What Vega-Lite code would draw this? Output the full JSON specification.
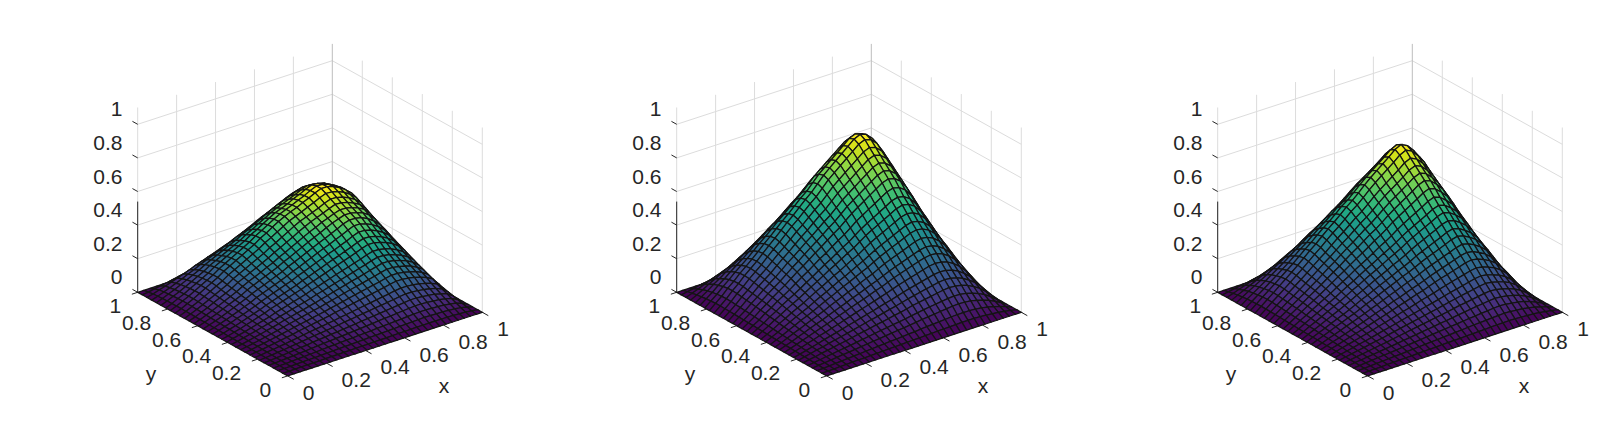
{"$schema":"https://vega.github.io/schema/vega-lite/v6.json","width":1600,"height":423,"padding":0,"autosize":{"type":"fit","contains":"padding"},"background":"white","view":{"stroke":null},
"datasets":{
"surface":[
{"p":0,"j":32,"z":[0,0,0,0,0,0,0,0,0,0,0,0,0,0,0,0,0,0,0,0,0,0,0,0,0,0,0,0,0,0,0,0,0]},
{"p":0,"j":31,"z":[0,65,113,137,153,165,174,179,180,173,164,156,148,140,132,124,116,108,101,92,85,77,70,63,56,47,40,32,25,18,12,5,0]},
{"p":0,"j":30,"z":[0,113,198,239,268,289,304,314,315,302,287,273,258,246,232,217,203,189,176,161,148,135,123,110,98,82,69,57,44,32,21,9,0]},
{"p":0,"j":29,"z":[0,137,239,289,323,348,362,370,372,361,346,329,312,296,280,262,245,228,213,194,179,163,148,133,118,99,84,68,53,38,25,11,0]},
{"p":0,"j":28,"z":[0,153,268,323,358,378,394,403,404,392,377,363,349,332,313,293,275,255,238,217,200,183,166,149,132,111,94,77,60,43,28,13,0]},
{"p":0,"j":27,"z":[0,165,288,348,378,400,416,426,428,414,398,383,368,355,337,316,296,275,256,233,215,197,178,160,142,119,101,82,64,46,30,14,0]},
{"p":0,"j":26,"z":[0,174,304,362,392,416,435,446,448,434,416,401,383,368,354,333,312,290,270,246,227,207,188,169,150,125,106,87,68,48,32,14,0]},
{"p":0,"j":25,"z":[0,179,313,370,403,426,444,455,457,442,424,408,392,377,362,343,321,299,279,254,234,214,194,174,154,129,109,90,70,50,33,15,0]},
{"p":0,"j":24,"z":[0,180,315,372,404,428,446,457,458,444,426,410,393,379,363,345,323,300,280,255,235,215,195,175,155,130,110,90,70,50,33,15,0]},
{"p":0,"j":23,"z":[0,173,302,361,392,415,432,442,444,430,413,398,382,367,352,331,310,288,269,245,226,206,187,168,149,125,106,86,67,48,32,14,0]},
{"p":0,"j":22,"z":[0,164,287,346,377,398,415,424,426,413,396,382,367,354,335,314,294,273,255,232,214,196,177,159,141,118,100,82,64,46,30,14,0]},
{"p":0,"j":21,"z":[0,156,272,329,363,383,399,408,410,397,382,368,354,337,318,298,279,260,242,221,203,186,169,151,134,112,95,78,61,43,29,13,0]},
{"p":0,"j":20,"z":[0,148,258,312,349,369,383,392,393,382,367,354,336,320,302,283,265,246,230,209,193,176,160,144,127,107,90,74,57,41,27,12,0]},
{"p":0,"j":19,"z":[0,140,246,296,332,355,369,377,379,367,354,338,320,304,287,269,252,234,218,199,183,168,152,137,121,101,86,70,55,39,26,12,0]},
{"p":0,"j":18,"z":[0,132,232,279,312,337,354,362,363,352,334,318,301,287,270,254,237,221,206,187,173,158,143,129,114,96,81,66,51,37,24,11,0]},
{"p":0,"j":17,"z":[0,124,217,262,293,316,333,344,345,331,314,299,283,269,254,238,223,207,193,176,162,148,135,121,107,90,76,62,48,35,23,10,0]},
{"p":0,"j":16,"z":[0,116,203,245,274,295,312,321,323,310,293,279,264,252,237,223,208,194,181,164,152,139,126,113,100,84,71,58,45,32,21,10,0]},
{"p":0,"j":15,"z":[0,108,189,228,255,275,290,299,300,288,273,260,246,234,221,207,194,180,168,153,141,129,117,105,93,78,66,54,42,30,20,9,0]},
{"p":0,"j":14,"z":[0,101,176,213,238,256,270,279,280,269,255,242,230,218,206,193,181,168,157,143,132,120,109,98,87,73,62,50,39,28,18,8,0]},
{"p":0,"j":13,"z":[0,92,161,194,217,234,246,254,255,245,232,221,209,199,188,176,165,153,143,130,120,110,99,89,79,66,56,46,36,26,17,8,0]},
{"p":0,"j":12,"z":[0,85,148,179,200,215,227,234,235,226,214,204,193,183,173,162,152,141,132,120,110,101,92,82,73,61,52,42,33,24,16,7,0]},
{"p":0,"j":11,"z":[0,77,135,163,183,197,208,214,215,206,196,186,176,168,158,148,139,129,120,110,101,92,84,75,67,56,47,39,30,22,14,6,0]},
{"p":0,"j":10,"z":[0,70,123,148,166,179,188,194,195,187,177,169,160,152,144,135,126,117,109,99,92,84,76,68,60,51,43,35,27,20,13,6,0]},
{"p":0,"j":9,"z":[0,63,110,133,149,160,169,174,175,168,159,152,144,137,129,121,113,105,98,89,82,75,68,61,54,46,39,32,25,18,12,5,0]},
{"p":0,"j":8,"z":[0,56,98,118,132,142,150,154,155,149,141,134,127,121,114,107,100,93,87,79,73,67,60,54,48,40,34,28,22,16,10,5,0]},
{"p":0,"j":7,"z":[0,47,82,99,111,119,126,129,130,125,118,113,107,101,96,90,84,78,73,66,61,56,51,46,40,34,29,23,18,13,9,4,0]},
{"p":0,"j":6,"z":[0,40,69,84,94,101,106,110,110,106,100,95,90,86,81,76,71,66,62,56,52,47,43,39,34,29,24,20,15,11,7,3,0]},
{"p":0,"j":5,"z":[0,32,57,68,77,82,87,90,90,86,82,78,74,70,66,62,58,54,50,46,42,39,35,32,28,23,20,16,13,9,6,3,0]},
{"p":0,"j":4,"z":[0,25,44,53,60,64,68,70,70,67,64,61,57,55,52,48,45,42,39,36,33,30,27,25,22,18,15,13,10,7,5,2,0]},
{"p":0,"j":3,"z":[0,18,32,38,43,46,48,50,50,48,46,43,41,39,37,35,32,30,28,26,24,22,20,18,16,13,11,9,7,5,3,2,0]},
{"p":0,"j":2,"z":[0,12,20,25,28,30,31,32,33,31,30,28,27,25,24,22,21,20,18,17,15,14,13,11,10,8,7,6,5,3,2,1,0]},
{"p":0,"j":1,"z":[0,5,9,11,13,14,14,15,15,14,14,13,12,12,11,10,10,9,8,8,7,6,6,5,5,4,3,3,2,2,1,0,0]},
{"p":0,"j":0,"z":[0,0,0,0,0,0,0,0,0,0,0,0,0,0,0,0,0,0,0,0,0,0,0,0,0,0,0,0,0,0,0,0,0]},
{"p":1,"j":32,"z":[0,0,0,0,0,0,0,0,0,0,0,0,0,0,0,0,0,0,0,0,0,0,0,0,0,0,0,0,0,0,0,0,0]},
{"p":1,"j":31,"z":[0,38,74,105,129,148,161,169,172,168,161,154,148,141,134,125,117,110,102,94,88,80,72,65,57,50,43,36,28,22,14,7,0]},
{"p":1,"j":30,"z":[0,74,144,205,252,289,315,330,335,329,315,302,289,275,261,245,228,215,200,184,171,156,141,127,112,97,84,71,55,42,27,13,0]},
{"p":1,"j":29,"z":[0,105,204,290,357,409,447,468,476,466,447,428,409,390,371,347,323,304,283,262,243,221,200,181,159,138,119,100,79,60,38,19,0]},
{"p":1,"j":28,"z":[0,129,251,357,439,503,550,576,585,573,550,527,503,480,456,427,398,374,348,322,299,272,246,222,196,170,146,123,97,74,47,23,0]},
{"p":1,"j":27,"z":[0,148,288,409,503,577,630,660,671,657,630,604,577,550,523,489,456,429,399,369,342,312,282,255,224,194,168,141,111,84,53,27,0]},
{"p":1,"j":26,"z":[0,162,315,447,550,631,689,722,733,718,689,660,631,602,572,535,498,469,436,403,374,341,308,278,245,212,183,154,121,92,58,29,0]},
{"p":1,"j":25,"z":[0,169,330,469,576,661,722,756,768,753,722,691,661,630,599,560,522,492,457,423,392,358,323,292,257,223,192,162,127,97,61,31,0]},
{"p":1,"j":24,"z":[0,172,335,476,585,671,733,768,780,764,733,702,671,640,608,569,530,499,464,429,398,363,328,296,261,226,195,164,129,98,62,31,0]},
{"p":1,"j":23,"z":[0,169,328,466,573,658,718,753,764,749,718,688,658,627,596,558,519,489,455,420,390,356,321,290,256,221,191,161,126,96,61,30,0]},
{"p":1,"j":22,"z":[0,162,315,447,550,631,689,722,733,718,689,660,631,602,572,535,498,469,436,403,374,341,308,278,245,212,183,154,121,92,58,29,0]},
{"p":1,"j":21,"z":[0,155,302,428,527,604,660,691,702,688,660,632,604,576,547,512,477,449,418,386,358,327,295,266,235,203,176,148,116,88,56,28,0]},
{"p":1,"j":20,"z":[0,148,288,409,503,577,630,660,671,657,630,604,577,550,523,489,456,429,399,369,342,312,282,255,224,194,168,141,111,84,53,27,0]},
{"p":1,"j":19,"z":[0,141,275,390,480,550,601,630,640,626,601,576,550,525,499,467,435,409,380,352,326,298,269,243,214,185,160,134,106,80,51,25,0]},
{"p":1,"j":18,"z":[0,134,261,371,456,523,572,599,608,596,572,548,523,499,474,444,413,389,362,335,310,283,256,231,204,176,152,128,101,76,48,24,0]},
{"p":1,"j":17,"z":[0,126,245,347,427,490,535,561,569,558,535,512,490,467,444,415,387,364,339,313,291,265,239,216,191,165,142,120,94,72,45,23,0]},
{"p":1,"j":16,"z":[0,117,228,324,398,456,498,522,530,520,498,477,456,435,413,387,360,339,316,292,271,247,223,201,177,154,133,112,88,67,42,21,0]},
{"p":1,"j":15,"z":[0,110,214,305,374,429,469,492,499,489,469,449,429,410,389,364,339,319,297,275,255,232,210,189,167,145,125,105,83,63,40,20,0]},
{"p":1,"j":14,"z":[0,102,199,283,348,399,436,457,464,455,436,418,399,381,362,339,315,297,276,255,237,216,195,176,155,134,116,98,77,58,37,18,0]},
{"p":1,"j":13,"z":[0,95,184,262,322,369,403,422,429,420,403,386,369,352,334,313,292,274,255,236,219,200,180,163,144,124,107,90,71,54,34,17,0]},
{"p":1,"j":12,"z":[0,88,171,243,298,342,374,392,398,390,374,358,342,326,310,290,270,254,237,219,203,185,167,151,133,115,99,84,66,50,32,16,0]},
{"p":1,"j":11,"z":[0,80,156,221,272,312,341,357,363,355,341,326,312,298,283,265,246,232,216,199,185,169,153,138,121,105,91,76,60,46,29,14,0]},
{"p":1,"j":10,"z":[0,72,141,200,246,282,308,323,328,321,308,295,282,269,255,239,223,210,195,180,167,152,138,124,110,95,82,69,54,41,26,13,0]},
{"p":1,"j":9,"z":[0,65,127,181,222,255,279,292,296,290,279,267,255,243,231,216,201,190,176,163,151,138,125,112,99,86,74,62,49,37,24,12,0]},
{"p":1,"j":8,"z":[0,58,112,159,196,225,246,257,261,256,246,235,225,214,204,191,178,167,155,144,133,122,110,99,87,76,65,55,43,33,21,10,0]},
{"p":1,"j":7,"z":[0,50,97,138,170,195,213,223,226,222,213,204,195,186,176,165,154,145,135,124,115,105,95,86,76,66,57,48,37,28,18,9,0]},
{"p":1,"j":6,"z":[0,43,84,119,146,168,183,192,195,191,183,176,168,160,152,142,133,125,116,107,100,91,82,74,65,57,49,41,32,25,16,8,0]},
{"p":1,"j":5,"z":[0,36,70,100,123,141,154,161,164,160,154,147,141,134,128,119,111,105,97,90,84,76,69,62,55,47,41,34,27,21,13,7,0]},
{"p":1,"j":4,"z":[0,28,55,79,97,111,121,127,129,126,121,116,111,106,100,94,87,82,77,71,66,60,54,49,43,37,32,27,21,16,10,5,0]},
{"p":1,"j":3,"z":[0,22,42,60,73,84,92,96,98,96,92,88,84,80,76,71,66,62,58,54,50,45,41,37,33,28,24,21,16,12,8,4,0]},
{"p":1,"j":2,"z":[0,14,27,38,47,54,59,61,62,61,59,56,54,51,49,46,42,40,37,34,32,29,26,24,21,18,16,13,10,8,5,2,0]},
{"p":1,"j":1,"z":[0,7,13,19,23,27,29,31,31,31,29,28,27,26,24,23,21,20,19,17,16,15,13,12,10,9,8,7,5,4,2,1,0]},
{"p":1,"j":0,"z":[0,0,0,0,0,0,0,0,0,0,0,0,0,0,0,0,0,0,0,0,0,0,0,0,0,0,0,0,0,0,0,0,0]},
{"p":2,"j":32,"z":[0,0,0,0,0,0,0,0,0,0,0,0,0,0,0,0,0,0,0,0,0,0,0,0,0,0,0,0,0,0,0,0,0]},
{"p":2,"j":31,"z":[0,35,68,97,119,135,146,154,158,154,147,141,135,128,121,113,106,100,93,86,79,72,65,59,51,44,38,32,25,19,13,6,0]},
{"p":2,"j":30,"z":[0,68,133,189,232,263,285,302,310,302,288,276,263,251,237,221,207,195,181,167,155,141,127,114,101,87,74,62,49,37,25,12,0]},
{"p":2,"j":29,"z":[0,96,189,268,329,373,404,428,439,428,409,391,373,356,336,314,294,277,257,237,220,200,180,162,143,123,106,88,70,52,35,18,0]},
{"p":2,"j":28,"z":[0,119,233,329,405,459,497,527,540,527,503,481,459,437,413,386,362,341,316,292,270,246,221,200,176,152,130,108,86,65,44,22,0]},
{"p":2,"j":27,"z":[0,134,264,373,459,520,563,597,612,597,570,545,520,496,468,438,410,386,358,331,306,279,251,226,199,172,147,122,98,73,49,25,0]},
{"p":2,"j":26,"z":[0,145,285,404,497,563,609,646,662,646,616,590,563,536,507,474,443,418,387,358,331,302,271,245,215,186,159,132,106,79,53,27,0]},
{"p":2,"j":25,"z":[0,154,302,428,527,597,645,684,702,684,653,625,597,568,537,502,470,443,410,379,351,320,288,259,228,197,169,140,112,84,57,28,0]},
{"p":2,"j":24,"z":[0,158,310,439,540,612,662,702,720,702,670,641,612,583,551,515,482,454,421,389,360,328,295,266,234,202,173,144,115,86,58,29,0]},
{"p":2,"j":23,"z":[0,154,302,428,527,597,645,684,702,684,653,625,597,568,537,502,470,443,410,379,351,320,288,259,228,197,169,140,112,84,57,28,0]},
{"p":2,"j":22,"z":[0,147,288,408,502,569,616,653,670,653,623,596,569,542,512,479,448,422,392,362,335,305,274,247,218,188,161,134,107,80,54,27,0]},
{"p":2,"j":21,"z":[0,141,276,391,481,545,589,625,641,625,596,570,545,519,490,458,429,404,375,346,320,292,263,237,208,180,154,128,102,77,52,26,0]},
{"p":2,"j":20,"z":[0,134,264,373,459,520,563,597,612,597,570,545,520,496,468,438,410,386,358,331,306,279,251,226,199,172,147,122,98,73,49,25,0]},
{"p":2,"j":19,"z":[0,128,251,356,437,496,536,569,583,569,543,519,496,472,446,417,390,368,341,315,292,266,239,215,190,164,140,117,93,70,47,23,0]},
{"p":2,"j":18,"z":[0,121,237,336,413,468,506,537,551,537,513,490,468,446,422,394,369,347,322,298,275,251,226,203,179,155,132,110,88,66,44,22,0]},
{"p":2,"j":17,"z":[0,113,222,314,386,438,473,502,515,502,479,458,438,417,394,368,345,325,301,278,257,235,211,190,167,144,124,103,82,61,41,21,0]},
{"p":2,"j":16,"z":[0,106,208,294,362,410,444,470,482,470,449,429,410,391,369,345,323,304,282,261,241,220,198,178,157,135,116,96,77,58,39,19,0]},
{"p":2,"j":15,"z":[0,100,195,277,340,386,417,442,454,442,422,404,386,367,347,324,304,286,265,245,227,207,186,168,147,127,109,91,72,54,37,18,0]},
{"p":2,"j":14,"z":[0,92,181,257,316,358,387,411,421,411,392,375,358,341,322,301,282,266,246,228,211,192,173,156,137,118,101,84,67,50,34,17,0]},
{"p":2,"j":13,"z":[0,85,167,237,292,330,357,379,389,379,362,346,330,315,298,278,260,245,227,210,194,177,159,144,126,109,93,78,62,46,31,16,0]},
{"p":2,"j":12,"z":[0,79,155,220,270,306,331,351,360,351,335,320,306,292,276,258,241,227,211,195,180,164,148,133,117,101,87,72,58,43,29,15,0]},
{"p":2,"j":11,"z":[0,72,141,200,246,278,301,319,328,319,305,292,278,265,251,234,219,207,192,177,164,149,134,121,106,92,79,66,52,39,26,13,0]},
{"p":2,"j":10,"z":[0,65,127,180,221,251,271,288,295,288,275,263,251,239,226,211,198,186,173,159,148,134,121,109,96,83,71,59,47,35,24,12,0]},
{"p":2,"j":9,"z":[0,58,115,162,200,226,245,260,266,260,248,237,226,216,204,191,178,168,156,144,133,121,109,98,87,75,64,53,43,32,21,11,0]},
{"p":2,"j":8,"z":[0,51,101,143,176,199,215,228,234,228,218,208,199,189,179,167,157,148,137,126,117,107,96,86,76,66,56,47,37,28,19,9,0]},
{"p":2,"j":7,"z":[0,44,87,123,151,171,185,197,202,197,188,179,171,163,154,144,135,127,118,109,101,92,83,74,66,57,48,40,32,24,16,8,0]},
{"p":2,"j":6,"z":[0,38,74,105,130,147,159,168,173,168,161,154,147,140,132,124,116,109,101,93,86,79,71,64,56,48,42,35,28,21,14,7,0]},
{"p":2,"j":5,"z":[0,32,62,88,108,122,132,140,144,140,134,128,122,117,110,103,96,91,84,78,72,66,59,53,47,40,35,29,23,17,12,6,0]},
{"p":2,"j":4,"z":[0,25,50,70,86,98,106,112,115,112,107,103,98,93,88,82,77,73,67,62,58,52,47,43,37,32,28,23,18,14,9,5,0]},
{"p":2,"j":3,"z":[0,19,37,53,65,73,79,84,86,84,80,77,73,70,66,62,58,54,51,47,43,39,35,32,28,24,21,17,14,10,7,3,0]},
{"p":2,"j":2,"z":[0,13,25,35,43,49,53,56,58,56,54,51,49,47,44,41,39,36,34,31,29,26,24,21,19,16,14,12,9,7,5,2,0]},
{"p":2,"j":1,"z":[0,6,12,18,22,24,26,28,29,28,27,26,24,23,22,21,19,18,17,16,14,13,12,11,9,8,7,6,5,3,2,1,0]},
{"p":2,"j":0,"z":[0,0,0,0,0,0,0,0,0,0,0,0,0,0,0,0,0,0,0,0,0,0,0,0,0,0,0,0,0,0,0,0,0]}
],
"lines":[
{"k":"g","x":0,"y":1,"z":0,"x2":0,"y2":1,"z2":1.1},{"k":"g","x":0.2,"y":1,"z":0,"x2":0.2,"y2":1,"z2":1.1},{"k":"g","x":0.4,"y":1,"z":0,"x2":0.4,"y2":1,"z2":1.1},{"k":"g","x":0.6,"y":1,"z":0,"x2":0.6,"y2":1,"z2":1.1},{"k":"g","x":0.8,"y":1,"z":0,"x2":0.8,"y2":1,"z2":1.1},
{"k":"g","x":1,"y":0.8,"z":0,"x2":1,"y2":0.8,"z2":1.1},{"k":"g","x":1,"y":0.6,"z":0,"x2":1,"y2":0.6,"z2":1.1},{"k":"g","x":1,"y":0.4,"z":0,"x2":1,"y2":0.4,"z2":1.1},{"k":"g","x":1,"y":0.2,"z":0,"x2":1,"y2":0.2,"z2":1.1},{"k":"g","x":1,"y":0,"z":0,"x2":1,"y2":0,"z2":1.1},
{"k":"g","x":0,"y":1,"z":0.2,"x2":1,"y2":1,"z2":0.2},{"k":"g","x":0,"y":1,"z":0.4,"x2":1,"y2":1,"z2":0.4},{"k":"g","x":0,"y":1,"z":0.6,"x2":1,"y2":1,"z2":0.6},{"k":"g","x":0,"y":1,"z":0.8,"x2":1,"y2":1,"z2":0.8},{"k":"g","x":0,"y":1,"z":1,"x2":1,"y2":1,"z2":1},
{"k":"g","x":1,"y":1,"z":0.2,"x2":1,"y2":0,"z2":0.2},{"k":"g","x":1,"y":1,"z":0.4,"x2":1,"y2":0,"z2":0.4},{"k":"g","x":1,"y":1,"z":0.6,"x2":1,"y2":0,"z2":0.6},{"k":"g","x":1,"y":1,"z":0.8,"x2":1,"y2":0,"z2":0.8},{"k":"g","x":1,"y":1,"z":1,"x2":1,"y2":0,"z2":1},
{"k":"b","x":1,"y":1,"z":0,"x2":1,"y2":1,"z2":1.1},
{"k":"t","x":0,"y":1,"z":0,"x2":0,"y2":1,"z2":0.54},
{"k":"t","x":0,"y":1,"z":0,"x2":0,"y2":1.035,"z2":0},{"k":"t","x":0,"y":1,"z":0.2,"x2":0,"y2":1.035,"z2":0.2},{"k":"t","x":0,"y":1,"z":0.4,"x2":0,"y2":1.035,"z2":0.4},{"k":"t","x":0,"y":1,"z":0.6,"x2":0,"y2":1.035,"z2":0.6},{"k":"t","x":0,"y":1,"z":0.8,"x2":0,"y2":1.035,"z2":0.8},{"k":"t","x":0,"y":1,"z":1,"x2":0,"y2":1.035,"z2":1},
{"k":"t","x":0,"y":0,"z":0,"x2":0,"y2":-0.04,"z2":0},{"k":"t","x":0.2,"y":0,"z":0,"x2":0.2,"y2":-0.04,"z2":0},{"k":"t","x":0.4,"y":0,"z":0,"x2":0.4,"y2":-0.04,"z2":0},{"k":"t","x":0.6,"y":0,"z":0,"x2":0.6,"y2":-0.04,"z2":0},{"k":"t","x":0.8,"y":0,"z":0,"x2":0.8,"y2":-0.04,"z2":0},{"k":"t","x":1,"y":0,"z":0,"x2":1,"y2":-0.04,"z2":0},
{"k":"t","x":0,"y":0,"z":0,"x2":-0.03,"y2":0,"z2":0},{"k":"t","x":0,"y":0.2,"z":0,"x2":-0.03,"y2":0.2,"z2":0},{"k":"t","x":0,"y":0.4,"z":0,"x2":-0.03,"y2":0.4,"z2":0},{"k":"t","x":0,"y":0.6,"z":0,"x2":-0.03,"y2":0.6,"z2":0},{"k":"t","x":0,"y":0.8,"z":0,"x2":-0.03,"y2":0.8,"z2":0},{"k":"t","x":0,"y":1,"z":0,"x2":-0.03,"y2":1,"z2":0}
],
"labels":[
{"k":"x","t":"0","x":0,"y":0,"z":0},{"k":"x","t":"0.2","x":0.2,"y":0,"z":0},{"k":"x","t":"0.4","x":0.4,"y":0,"z":0},{"k":"x","t":"0.6","x":0.6,"y":0,"z":0},{"k":"x","t":"0.8","x":0.8,"y":0,"z":0},{"k":"x","t":"1","x":1,"y":0,"z":0},
{"k":"y","t":"0","x":0,"y":0,"z":0},{"k":"y","t":"0.2","x":0,"y":0.2,"z":0},{"k":"y","t":"0.4","x":0,"y":0.4,"z":0},{"k":"y","t":"0.6","x":0,"y":0.6,"z":0},{"k":"y","t":"0.8","x":0,"y":0.8,"z":0},{"k":"y","t":"1","x":0,"y":1,"z":0},
{"k":"z","t":"0","x":0,"y":1,"z":0},{"k":"z","t":"0.2","x":0,"y":1,"z":0.2},{"k":"z","t":"0.4","x":0,"y":1,"z":0.4},{"k":"z","t":"0.6","x":0,"y":1,"z":0.6},{"k":"z","t":"0.8","x":0,"y":1,"z":0.8},{"k":"z","t":"1","x":0,"y":1,"z":1},
{"k":"tx","t":"x","x":0.5,"y":0,"z":0},{"k":"ty","t":"y","x":0,"y":0.5,"z":0}
]},
"encoding":{
"x":{"field":"sx","type":"quantitative","scale":{"domain":[0,1600],"nice":false,"zero":false},"axis":null},
"y":{"field":"sy","type":"quantitative","scale":{"domain":[423,0],"nice":false,"zero":false},"axis":null}},
"layer":[
{"data":{"name":"lines"},"transform":[{"filter":"datum.k=='g'"},{"calculate":"[0,1,2]","as":"p"},{"flatten":["p"]},
{"calculate":"287.7+[0,539,1080][datum.p]+194.6*datum.x-150*datum.y","as":"sx"},{"calculate":"375.9-63.6*datum.x-83.6*datum.y-168*datum.z","as":"sy"},
{"calculate":"287.7+[0,539,1080][datum.p]+194.6*datum.x2-150*datum.y2","as":"sx2"},{"calculate":"375.9-63.6*datum.x2-83.6*datum.y2-168*datum.z2","as":"sy2"}],
"mark":{"type":"rule","stroke":"#dcdcdc","strokeWidth":1},"encoding":{"x2":{"field":"sx2"},"y2":{"field":"sy2"}}},
{"data":{"name":"lines"},"transform":[{"filter":"datum.k=='b'"},{"calculate":"[0,1,2]","as":"p"},{"flatten":["p"]},
{"calculate":"287.7+[0,539,1080][datum.p]+194.6*datum.x-150*datum.y","as":"sx"},{"calculate":"375.9-63.6*datum.x-83.6*datum.y-168*datum.z","as":"sy"},
{"calculate":"287.7+[0,539,1080][datum.p]+194.6*datum.x2-150*datum.y2","as":"sx2"},{"calculate":"375.9-63.6*datum.x2-83.6*datum.y2-168*datum.z2","as":"sy2"}],
"mark":{"type":"rule","stroke":"#bdbdbd","strokeWidth":1},"encoding":{"x2":{"field":"sx2"},"y2":{"field":"sy2"}}},
{"data":{"name":"lines"},"transform":[{"filter":"datum.k=='t'"},{"calculate":"[0,1,2]","as":"p"},{"flatten":["p"]},
{"calculate":"287.7+[0,539,1080][datum.p]+194.6*datum.x-150*datum.y","as":"sx"},{"calculate":"375.9-63.6*datum.x-83.6*datum.y-168*datum.z","as":"sy"},
{"calculate":"287.7+[0,539,1080][datum.p]+194.6*datum.x2-150*datum.y2","as":"sx2"},{"calculate":"375.9-63.6*datum.x2-83.6*datum.y2-168*datum.z2","as":"sy2"}],
"mark":{"type":"rule","stroke":"#262626","strokeWidth":1},"encoding":{"x2":{"field":"sx2"},"y2":{"field":"sy2"}}},
{"data":{"name":"surface"},"transform":[{"flatten":["z"]},{"window":[{"op":"row_number","as":"rn"}],"groupby":["p","j"]},
{"calculate":"33-datum.rn","as":"i"},{"calculate":"[0,1,2,3,4]","as":"rs"},{"flatten":["rs"]},
{"calculate":"datum.i-[0,1,1,0,0][datum.rs]","as":"cx"},{"calculate":"datum.j-[0,0,1,1,0][datum.rs]","as":"cy"},
{"filter":"datum.cx>=0&&datum.cy>=0&&datum.cx<32&&datum.cy<32"},
{"calculate":"'c'+datum.p+'_'+datum.cx+'_'+datum.cy","as":"key"},
{"joinaggregate":[{"op":"mean","field":"z","as":"mz"}],"groupby":["key"]},
{"joinaggregate":[{"op":"max","field":"z","as":"zm"}],"groupby":["p"]},
{"calculate":"datum.mz/datum.zm","as":"c"},
{"calculate":"287.7+[0,539,1080][datum.p]+194.6*datum.i/32-150*datum.j/32","as":"sx"},{"calculate":"375.9-63.6*datum.i/32-83.6*datum.j/32-0.168*datum.z","as":"sy"}],
"mark":{"type":"line","stroke":"#141414","strokeWidth":1.25},
"encoding":{"detail":{"field":"key"},"order":{"field":"rs","type":"quantitative"},"fill":{"field":"c","type":"quantitative","scale":{"scheme":"viridis","domain":[0,1]},"legend":null}}},
{"data":{"name":"labels"},"transform":[{"filter":"datum.k=='x'"},{"calculate":"[0,1,2]","as":"p"},{"flatten":["p"]},{"calculate":"287.7+[0,539,1080][datum.p]+194.6*datum.x-150*datum.y","as":"sx"},{"calculate":"375.9-63.6*datum.x-83.6*datum.y-168*datum.z","as":"sy"}],
"mark":{"type":"text","align":"left","baseline":"middle","dx":15,"dy":18,"font":"Liberation Sans","fontSize":21,"fill":"#262626"},"encoding":{"text":{"field":"t"}}},
{"data":{"name":"labels"},"transform":[{"filter":"datum.k=='y'"},{"calculate":"[0,1,2]","as":"p"},{"flatten":["p"]},{"calculate":"287.7+[0,539,1080][datum.p]+194.6*datum.x-150*datum.y","as":"sx"},{"calculate":"375.9-63.6*datum.x-83.6*datum.y-168*datum.z","as":"sy"}],
"mark":{"type":"text","align":"right","baseline":"middle","dx":-16.6,"dy":15,"font":"Liberation Sans","fontSize":21,"fill":"#262626"},"encoding":{"text":{"field":"t"}}},
{"data":{"name":"labels"},"transform":[{"filter":"datum.k=='z'"},{"calculate":"[0,1,2]","as":"p"},{"flatten":["p"]},{"calculate":"287.7+[0,539,1080][datum.p]+194.6*datum.x-150*datum.y","as":"sx"},{"calculate":"375.9-63.6*datum.x-83.6*datum.y-168*datum.z","as":"sy"}],
"mark":{"type":"text","align":"right","baseline":"middle","dx":-15.2,"dy":-14,"font":"Liberation Sans","fontSize":21,"fill":"#262626"},"encoding":{"text":{"field":"t"}}},
{"data":{"name":"labels"},"transform":[{"filter":"datum.k=='tx'"},{"calculate":"[0,1,2]","as":"p"},{"flatten":["p"]},{"calculate":"287.7+[0,539,1080][datum.p]+194.6*datum.x-150*datum.y","as":"sx"},{"calculate":"375.9-63.6*datum.x-83.6*datum.y-168*datum.z","as":"sy"}],
"mark":{"type":"text","align":"center","baseline":"middle","dx":59,"dy":43,"font":"Liberation Sans","fontSize":21,"fill":"#262626"},"encoding":{"text":{"field":"t"}}},
{"data":{"name":"labels"},"transform":[{"filter":"datum.k=='ty'"},{"calculate":"[0,1,2]","as":"p"},{"flatten":["p"]},{"calculate":"287.7+[0,539,1080][datum.p]+194.6*datum.x-150*datum.y","as":"sx"},{"calculate":"375.9-63.6*datum.x-83.6*datum.y-168*datum.z","as":"sy"}],
"mark":{"type":"text","align":"center","baseline":"middle","dx":-61.7,"dy":41,"font":"Liberation Sans","fontSize":21,"fill":"#262626"},"encoding":{"text":{"field":"t"}}}
]}
